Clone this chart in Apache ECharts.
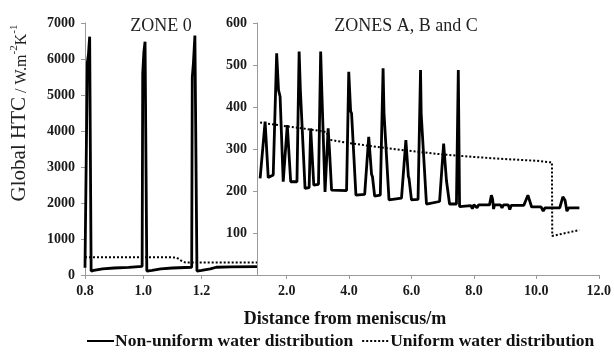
<!DOCTYPE html>
<html>
<head>
<meta charset="utf-8">
<script src="https://cdn.jsdelivr.net/npm/echarts@6/dist/echarts.min.js"></script>
<style>html,body{margin:0;padding:0;background:#fff}#c{width:614px;height:353px}</style>
</head>
<body>
<div id="c"></div>
<script>
// ---- Data ----
const zone0Ticks = [0.8, 1.0, 1.2];
const zoneABCTicks = [2, 4, 6, 8, 10, 12];
const zoneABCYLabels = [100, 200, 300, 400, 500, 600];

// Zone 0: [distance (m), HTC]
const zone0NonUniform = [
  [0.800, 200], [0.806, 230], [0.808, 5900], [0.812, 6150], [0.816, 6620], [0.818, 6620], [0.821, 110],
  [0.83, 130], [0.86, 170], [0.90, 195], [0.95, 210], [0.996, 240],
  [0.998, 5600], [1.002, 6200], [1.006, 6480], [1.008, 6480], [1.012, 110],
  [1.03, 130], [1.06, 170], [1.10, 195], [1.166, 215],
  [1.168, 5500], [1.172, 5900], [1.177, 6650], [1.180, 6650], [1.184, 110],
  [1.20, 130], [1.23, 170], [1.25, 215], [1.30, 225], [1.39, 230]
];
const zone0Uniform = [
  [0.800, 490], [0.90, 490], [1.00, 490], [1.10, 490], [1.115, 480], [1.13, 400], [1.145, 345],
  [1.20, 345], [1.30, 345], [1.39, 345]
];

// Zones A, B and C
const zoneABCNonUniform = [
  [1.15, 230], [1.31, 365], [1.41, 232], [1.57, 238], [1.68, 528], [1.74, 440], [1.79, 425], [1.89, 222],
  [2.02, 357], [2.13, 222], [2.33, 222], [2.40, 532], [2.44, 440], [2.48, 437], [2.59, 206],
  [2.72, 208], [2.77, 349], [2.87, 214], [3.02, 216], [3.09, 532], [3.13, 430], [3.17, 429], [3.23, 198],
  [3.33, 349], [3.37, 300], [3.44, 202], [3.92, 201], [3.99, 484], [4.05, 390], [4.08, 385], [4.22, 190],
  [4.50, 192], [4.63, 329], [4.72, 240], [4.75, 234], [4.82, 188], [5.00, 190],
  [5.09, 492], [5.12, 385], [5.14, 381], [5.28, 179], [5.68, 183], [5.82, 321], [5.90, 235], [5.92, 230], [6.00, 179],
  [6.21, 180], [6.29, 488], [6.31, 385], [6.33, 381], [6.48, 169], [6.90, 175], [7.03, 313], [7.12, 225], [7.14, 222], [7.22, 169],
  [7.44, 169], [7.50, 488], [7.54, 163],
  [7.90, 165], [7.95, 158], [8.0, 167], [8.05, 170], [8.10, 160], [8.15, 167], [8.50, 167],
  [8.56, 190], [8.60, 180], [8.63, 157], [8.66, 167], [8.85, 167], [8.90, 160], [8.95, 167], [9.10, 167], [9.15, 156], [9.20, 166],
  [9.60, 166], [9.73, 190], [9.85, 162], [10.15, 162], [10.22, 152], [10.28, 160], [10.75, 160],
  [10.85, 186], [10.92, 178], [10.98, 152], [11.04, 160], [11.38, 160]
];
const zoneABCUniform = [
  [1.15, 363], [2.0, 354], [3.0, 344], [3.28, 340], [3.38, 322], [4.0, 314], [5.0, 304], [6.0, 295],
  [7.0, 287], [8.0, 281], [9.0, 276], [10.0, 272], [10.50, 268], [10.51, 93], [11.38, 107]
];

const seriesNames = ['Non-uniform water distribution', 'Uniform water distribution'];

// ---- Chart ----
const chart = echarts.init(document.getElementById('c'), null, {renderer: 'canvas'});
const serif = 'Liberation Serif';
const axisColor = '#9a9a9a';
const labelStyle = {fontFamily: serif, fontWeight: 'bold', fontSize: 14, color: '#1a1a1a'};

const solid = {color: '#000', width: 2.8, type: 'solid'};
const dotted = {color: '#000', width: 2, type: [2, 2]};

chart.setOption({
  animation: false,
  backgroundColor: '#fff',
  title: [
    {text: 'ZONE 0', left: 156, top: 12, textAlign: 'center',
     textStyle: {fontFamily: serif, fontWeight: 'normal', fontSize: 18, color: '#222'}},
    {text: 'ZONES A, B and C', left: 401, top: 12, textAlign: 'center',
     textStyle: {fontFamily: serif, fontWeight: 'normal', fontSize: 18, color: '#222'}}
  ],
  legend: {
    data: seriesNames,
    top: 332, left: 86, width: 526, padding: 0,
    itemWidth: 27, itemHeight: 10, itemGap: 8,
    itemStyle: {opacity: 0, color: 'transparent', borderWidth: 0},
    textStyle: {fontFamily: serif, fontWeight: 'bold', fontSize: 17.5, color: '#111', padding: [0, 0, 0, -4]}
  },
  grid: [
    {left: 85, right: 357, top: 23, bottom: 78},
    {left: 257, right: 15, top: 23, bottom: 78}
  ],
  xAxis: [
    {type: 'value', gridIndex: 0, min: 0.8, max: 1.39,
     axisLine: {lineStyle: {color: axisColor}},
     axisTick: {show: true, length: 4, lineStyle: {color: axisColor}, customValues: zone0Ticks},
     axisLabel: Object.assign({customValues: zone0Ticks, margin: 9, formatter: v => v.toFixed(1)}, labelStyle),
     splitLine: {show: false}},
    {type: 'value', gridIndex: 1, min: 1.05, max: 12,
     axisLine: {lineStyle: {color: axisColor}},
     axisTick: {show: true, length: 4, lineStyle: {color: axisColor}, customValues: zoneABCTicks},
     axisLabel: Object.assign({customValues: zoneABCTicks, margin: 9, formatter: v => v.toFixed(1)}, labelStyle),
     splitLine: {show: false}}
  ],
  yAxis: [
    {type: 'value', gridIndex: 0, min: 0, max: 7000, interval: 1000,
     axisLine: {show: true, lineStyle: {color: axisColor}},
     axisTick: {show: true, length: 4, lineStyle: {color: axisColor}},
     axisLabel: Object.assign({margin: 10, formatter: v => String(v)}, labelStyle),
     splitLine: {show: false}},
    {type: 'value', gridIndex: 1, min: 0, max: 600, interval: 100,
     axisLine: {show: true, lineStyle: {color: axisColor}},
     axisTick: {show: true, length: 4, lineStyle: {color: axisColor}},
     axisLabel: Object.assign({margin: 10, customValues: zoneABCYLabels, formatter: v => String(v)}, labelStyle),
     splitLine: {show: false}}
  ],
  series: [
    {name: seriesNames[0], type: 'line', xAxisIndex: 0, yAxisIndex: 0, data: zone0NonUniform,
     showSymbol: false, symbol: 'none', lineStyle: solid, itemStyle: {color: '#000'}, z: 3},
    {name: seriesNames[1], type: 'line', xAxisIndex: 0, yAxisIndex: 0, data: zone0Uniform,
     showSymbol: false, symbol: 'none', lineStyle: dotted, itemStyle: {color: '#000'}, z: 2},
    {name: seriesNames[0], type: 'line', xAxisIndex: 1, yAxisIndex: 1, data: zoneABCNonUniform,
     showSymbol: false, symbol: 'none', lineStyle: solid, itemStyle: {color: '#000'}, z: 3},
    {name: seriesNames[1], type: 'line', xAxisIndex: 1, yAxisIndex: 1, data: zoneABCUniform,
     showSymbol: false, symbol: 'none', lineStyle: dotted, itemStyle: {color: '#000'}, z: 2}
  ],
  graphic: [
    {type: 'text', x: 345, y: 319,
     style: {text: 'Distance from meniscus/m', font: 'bold 18px "Liberation Serif"', fill: '#111',
             align: 'center', verticalAlign: 'middle'}},
    {type: 'text', x: 19, y: 113, rotation: Math.PI / 2,
     style: {
       text: '{a|Global HTC}{b| / W.m}{s|-2}{b|K}{s|-1}',
       align: 'center', verticalAlign: 'middle',
       rich: {
         a: {fontFamily: serif, fontSize: 21, fill: '#222', verticalAlign: 'bottom'},
         b: {fontFamily: serif, fontSize: 16, fill: '#222', verticalAlign: 'bottom'},
         s: {fontFamily: serif, fontSize: 11, fill: '#222', verticalAlign: 'top'}
       }
     }}
  ]
});
</script>
</body>
</html>
